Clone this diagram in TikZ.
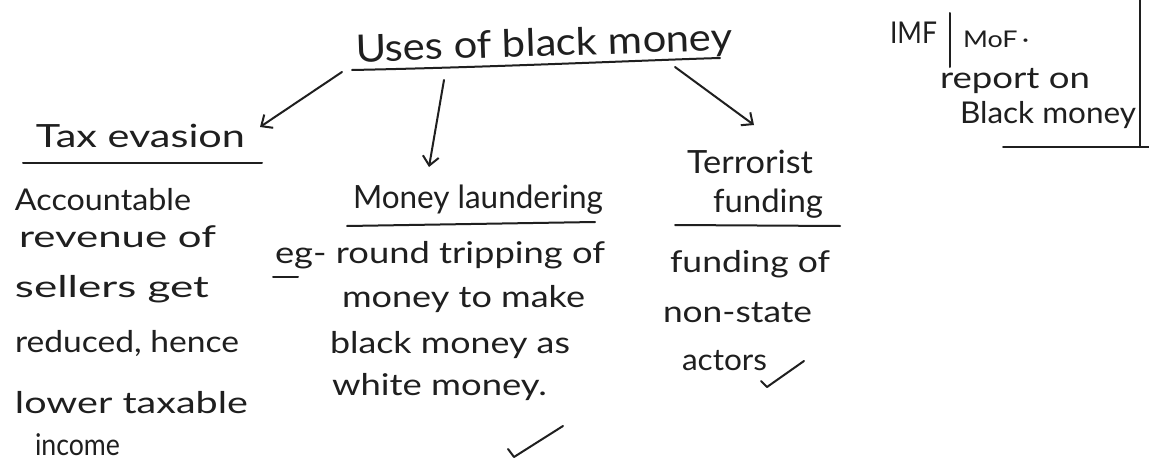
\documentclass[tikz,border=0pt]{standalone}
\usepackage{graphicx}
\usepackage{fontspec}
\setmainfont{Lato}
\usetikzlibrary{arrows.meta}
\definecolor{ink}{HTML}{1F1F1F}
\newlength\hwl
\newcommand\hw[2]{\settowidth{\hwl}{#2}\edef\hwf{\fpeval{#1/(\the\hwl)}}\scalebox{\hwf}[1]{#2}}
\tikzset{
  hand/.style={inner sep=0pt, outer sep=0pt, anchor=base west, text=ink},
  ttl/.style={hand, font=\fontsize{38}{46}\selectfont},
  head/.style={hand, font=\fontsize{32}{38}\selectfont},
  body/.style={hand, font=\fontsize{30}{36}\selectfont},
  note/.style={hand, font=\fontsize{30}{36}\selectfont},
  notesm/.style={hand, font=\fontsize{23}{28}\selectfont},
  pen/.style={draw=ink, line width=2pt, line cap=round, line join=round},
  arr/.style={pen, -{Straight Barb[length=9pt,width=16pt]}},
}
\begin{document}
\begin{tikzpicture}[x=1pt,y=-1pt]
\fill[white] (0,0) rectangle (1149,463);
\useasboundingbox (0,0) rectangle (1149,463);

% title
\node[ttl, rotate=1.8] (title) at (356,62) {\hw{377}{Uses of black money}};
\draw[pen] (352,70) .. controls (500,67) and (650,60) .. (720,58);

% tax evasion branch
\node[head] (taxev) at (36,147) {\hw{209}{Tax evasion}};
\draw[pen] (23,163) -- (262,163);
\node[body] (te1) at (15,210) {\hw{176}{Accountable}};
\node[body] (te2) at (19,247) {\hw{197}{revenue of}};
\node[body] (te3) at (15,297) {\hw{194}{sellers get}};
\node[body] (te4) at (15,352) {\hw{224}{reduced, hence}};
\node[body] (te5) at (15,413) {\hw{233}{lower taxable}};
\node[body] (te6) at (35,455) {\hw{85}{income}};

% money laundering branch
\node[head] (mlaund) at (353,208) {\hw{250}{Money laundering}};
\draw[pen] (347,226) -- (595,222);
\node[body] (ml1) at (275,263) {\hw{330}{eg- round tripping of}};
\draw[pen] (273,277) -- (298,277);
\node[body] (ml2) at (342,307) {\hw{243}{money to make}};
\node[body] (ml3) at (330,353) {\hw{240}{black money as}};
\node[body] (ml4) at (332,395) {\hw{215}{white money.}};
\draw[pen] (508,449) -- (514,457) -- (563,426);

% terrorist funding branch
\node[head] (terr) at (687,173) {\hw{126}{Terrorist}};
\node[head] (fund) at (713,212) {\hw{110}{funding}};
\draw[pen] (675,225) -- (840,226);
\node[body] (tf1) at (670,272) {\hw{160}{funding of}};
\node[body] (tf2) at (663,322) {\hw{149}{non-state}};
\node[body] (tf3) at (682,370) {\hw{85}{actors}};
\draw[pen] (761,381) -- (767,387) -- (804,361);

% arrows
\draw[arr] ([shift={(-14,10)}]title.base west) -- ([shift={(15,-20)}]taxev.base east);
\draw[arr] ([shift={(88,18)}]title.base west) -- ([shift={(76,-41)}]mlaund.base west);
\draw[arr] ([shift={(319,5)}]title.base west) -- ([shift={(67,-48)}]terr.base west);

% side note
\node[note] (imf) at (890,43) {\hw{47}{IMF}};
\node[notesm] (mof) at (963,47) {\hw{66}{MoF\,·}};
\draw[pen] (950,13) -- (950,67);
\node[note] (rep) at (940,88) {\hw{150}{report on}};
\node[note] (bm) at (960,123) {\hw{176}{Black money}};
\draw[pen] (1003,147) -- (1149,147);
\draw[pen] (1140,0) -- (1140,147);
\end{tikzpicture}
\end{document}
